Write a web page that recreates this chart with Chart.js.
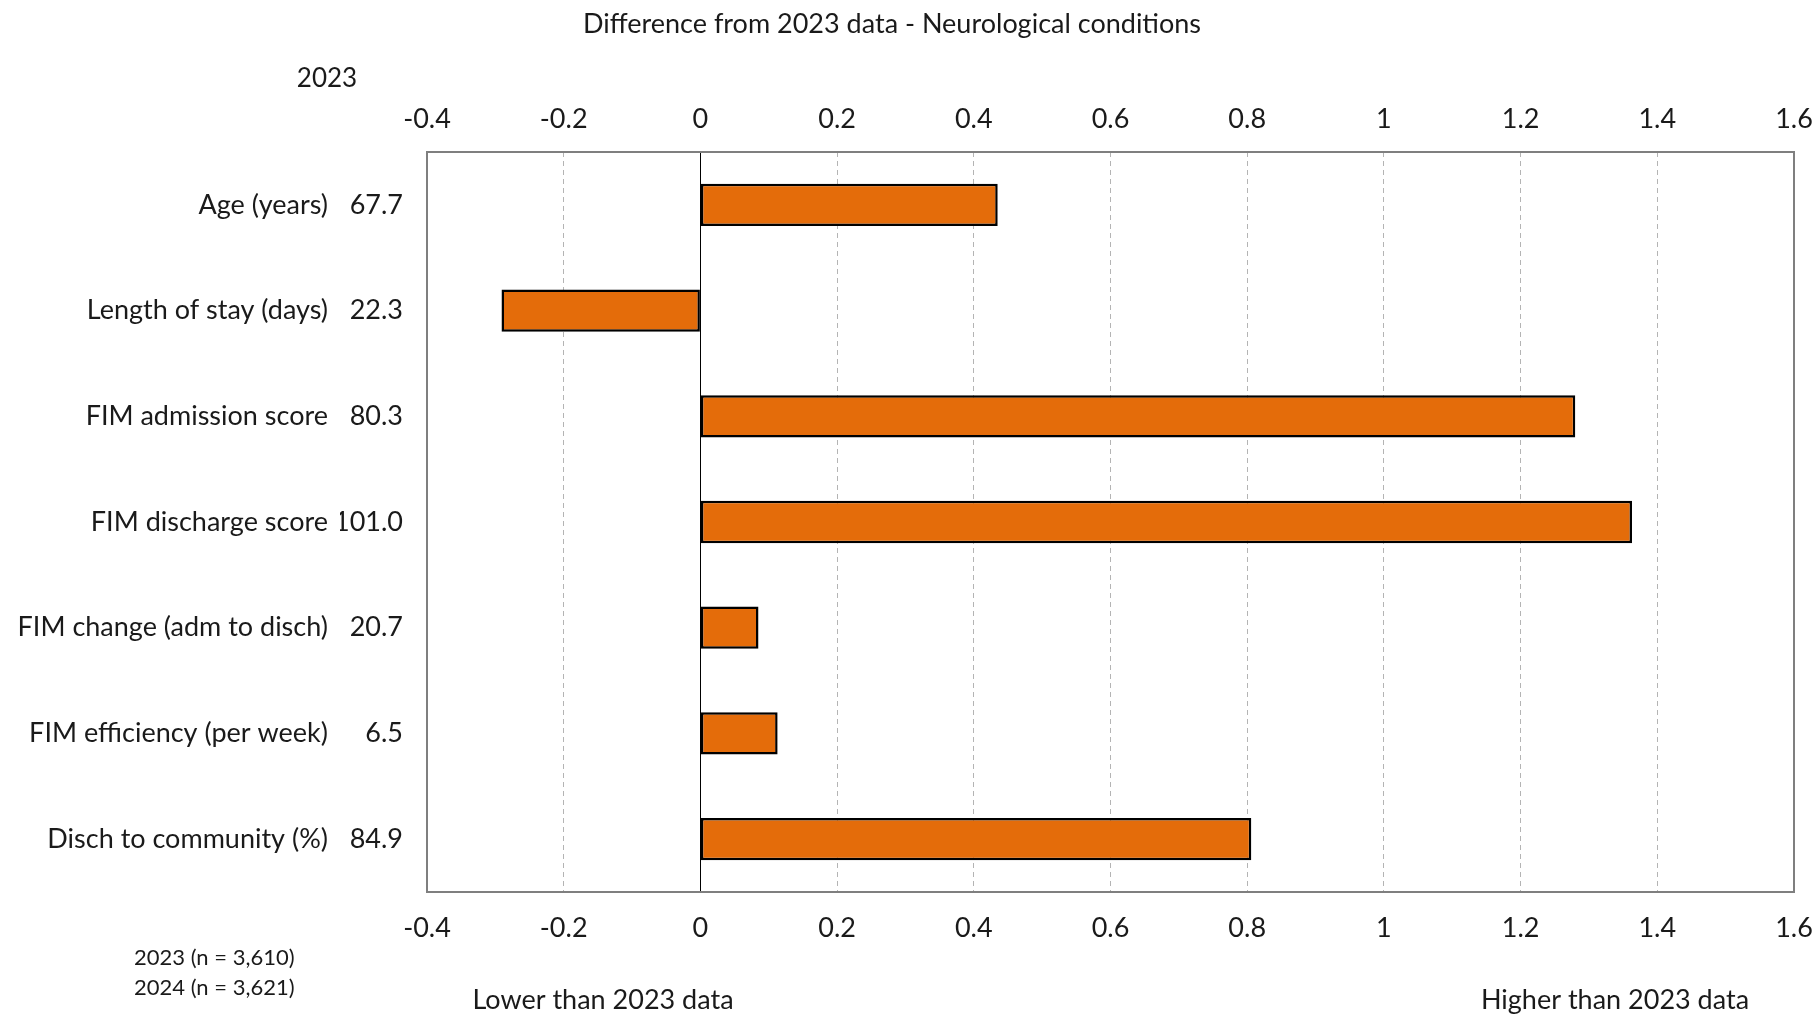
<!DOCTYPE html>
<html>
<head>
<meta charset="utf-8">
<script src="https://cdn.jsdelivr.net/npm/chart.js@4.4.1/dist/chart.umd.min.js"></script>
<style>
  html, body { margin: 0; padding: 0; background: #fff; }
  #wrap { width: 1814px; height: 1015px; position: relative; }
</style>
</head>
<body>
<div id="wrap"><canvas id="diff-chart"></canvas></div>
<script>
const metricNames = [
  'Age (years)', 'Length of stay (days)', 'FIM admission score', 'FIM discharge score',
  'FIM change (adm to disch)', 'FIM efficiency (per week)', 'Disch to community (%)'
];
const baseline2023 = ['67.7', '22.3', '80.3', '101.0', '20.7', '6.5', '84.9'];
const difference = [0.435, -0.291, 1.280, 1.363, 0.085, 0.113, 0.806];
const xTicks = [-0.4, -0.2, 0, 0.2, 0.4, 0.6, 0.8, 1, 1.2, 1.4, 1.6];

const FONT = 'Lato';
const TEXT = '#1a1a1a';

// frame round the plot, solid zero line and loose captions
const extras = {
  id: 'extras',
  beforeDatasetsDraw(chart) {
    const { ctx, chartArea: a, scales } = chart;
    const x0 = Math.round(scales.x.getPixelForValue(0)) + 0.5;
    ctx.save();
    ctx.strokeStyle = '#000';
    ctx.lineWidth = 1;
    ctx.beginPath();
    ctx.moveTo(x0, a.top);
    ctx.lineTo(x0, a.bottom);
    ctx.stroke();
    ctx.restore();
  },
  afterDraw(chart) {
    const { ctx, chartArea: a } = chart;
    ctx.save();
    ctx.strokeStyle = '#7f7f7f';
    ctx.lineWidth = 2;
    ctx.strokeRect(a.left, a.top, a.right - a.left, a.bottom - a.top);

    ctx.fillStyle = TEXT;
    ctx.font = `27px ${FONT}`;
    ctx.textBaseline = 'middle';
    ctx.textAlign = 'center';
    ctx.fillText('Difference from 2023 data - Neurological conditions', 892, 24);
    ctx.font = `26px ${FONT}`;
    ctx.fillText('2023', 327, 79);
    ctx.font = `27px ${FONT}`;
    ctx.fillText('Lower than 2023 data', 603, 1000);
    ctx.fillText('Higher than 2023 data', 1615, 1000);
    ctx.textAlign = 'left';
    ctx.font = `22px ${FONT}`;
    ctx.fillText('2023 (n = 3,610)', 134, 958);
    ctx.fillText('2024 (n = 3,621)', 134, 988);
    ctx.restore();
  }
};

const tickFont = { family: FONT, size: 27 };
const tickText = (v) => String(Math.round(v * 10) / 10);

new Chart(document.getElementById('diff-chart').getContext('2d'), {
  type: 'bar',
  data: {
    labels: metricNames,
    datasets: [{
      label: 'Difference from 2023',
      data: difference,
      backgroundColor: '#E46C0A',
      borderColor: '#000',
      borderWidth: 2.5,
      borderSkipped: false,
      barPercentage: 0.4,
      categoryPercentage: 1
    }]
  },
  options: {
    indexAxis: 'y',
    responsive: true,
    maintainAspectRatio: false,
    animation: false,
    layout: { padding: { top: 0, right: 20, bottom: 0, left: 0 } },
    plugins: { legend: { display: false }, title: { display: false }, tooltip: { enabled: false } },
    scales: {
      x: {
        type: 'linear', position: 'bottom', min: -0.4, max: 1.6,
        afterBuildTicks: (s) => { s.ticks = xTicks.map(v => ({ value: v })); },
        ticks: { font: tickFont, color: TEXT, padding: 20, maxRotation: 0, callback: tickText },
        grid: { color: '#b4b4b4', lineWidth: 1, drawTicks: false },
        border: { display: false, dash: [5, 4] },
        afterFit: (s) => { s.height = 123; s.paddingRight = 0; s.paddingLeft = 0; }
      },
      x2: {
        type: 'linear', position: 'top', min: -0.4, max: 1.6,
        afterBuildTicks: (s) => { s.ticks = xTicks.map(v => ({ value: v })); },
        ticks: { font: tickFont, color: TEXT, padding: 17, maxRotation: 0, callback: tickText },
        grid: { display: false, drawTicks: false },
        border: { display: false },
        afterFit: (s) => { s.height = 152; s.paddingRight = 0; s.paddingLeft = 0; }
      },
      y: {
        type: 'category', position: 'left', weight: 0,
        labels: baseline2023,
        ticks: { font: tickFont, color: TEXT, padding: 24 },
        grid: { display: false, drawTicks: false },
        border: { display: false },
        afterFit: (s) => { s.width = 87; }
      },
      y2: {
        type: 'category', position: 'left', weight: 1, offset: true,
        labels: metricNames,
        ticks: { font: tickFont, color: TEXT, padding: 12 },
        grid: { display: false, drawTicks: false },
        border: { display: false },
        afterFit: (s) => { s.width = 340; }
      }
    }
  },
  plugins: [extras]
});
</script>
</body>
</html>
